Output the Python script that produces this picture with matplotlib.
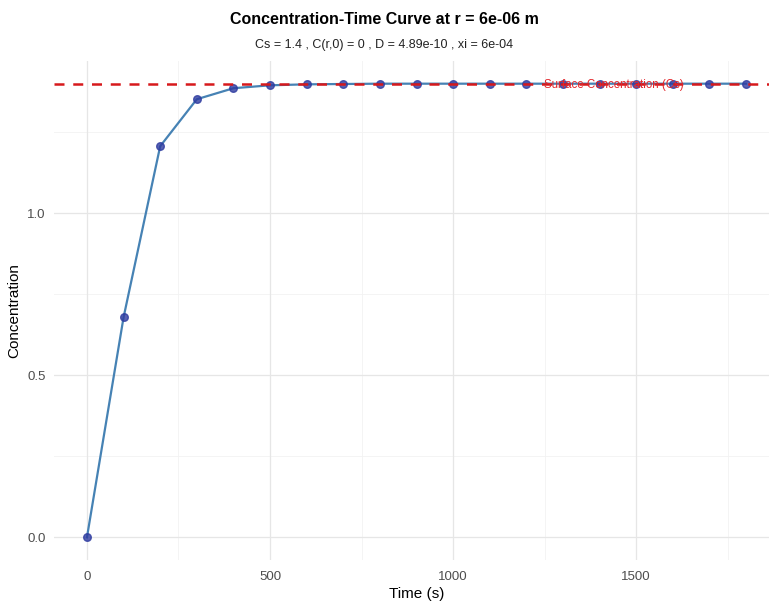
import matplotlib
matplotlib.use("Agg")
import matplotlib.pyplot as plt

plt.rcParams['font.family'] = ['Liberation Sans', 'DejaVu Sans']

# data
time_s = [0, 100, 200, 300, 400, 500, 600, 700, 800, 900, 1000,
          1100, 1200, 1300, 1400, 1500, 1600, 1700, 1800]
conc = [0.0, 0.679, 1.207, 1.352, 1.386, 1.395, 1.398, 1.399, 1.4, 1.4, 1.4,
        1.4, 1.4, 1.4, 1.4, 1.4, 1.4, 1.4, 1.4]
Cs = 1.4
x_ticks = [0, 500, 1000, 1500]
y_ticks = [0.0, 0.5, 1.0]

fig = plt.figure(figsize=(7.69, 6.05), dpi=100)
ax = fig.add_axes([54/769, 45/605, 725/769, 499/605])

# grid like theme_minimal
for v in [250, 750, 1250, 1750]:
    ax.axvline(v, color='#F2F2F2', lw=0.6, zorder=0)
for v in [0.25, 0.75, 1.25]:
    ax.axhline(v, color='#F2F2F2', lw=0.6, zorder=0)
for v in x_ticks:
    ax.axvline(v, color='#E6E6E6', lw=0.9, zorder=0)
for v in y_ticks:
    ax.axhline(v, color='#E6E6E6', lw=0.9, zorder=0)

ax.plot(time_s, conc, color='#4682B4', lw=1.6, zorder=2)
ax.scatter(time_s, conc, s=30, color='#2E3BA0', alpha=0.8, zorder=3)
ax.axhline(Cs, color='#D7191C', lw=1.8, ls=(0, (4, 3.5)), zorder=4)
ax.text(1440, Cs - 0.003, "Surface Concentration (Cs)", color='#E3262B',
        fontsize=8.3, ha='center', va='center', zorder=5)

ax.set_xlim(-90, 1890)
ax.set_ylim(-0.07, 1.47)
ax.set_xticks(x_ticks)
ax.set_yticks(y_ticks)
ax.set_yticklabels(["0.0", "0.5", "1.0"])
ax.tick_params(length=0, colors='#4D4D4D', labelsize=9.5)
ax.tick_params(axis='x', pad=8)
ax.tick_params(axis='y', pad=6)
for s in ax.spines.values():
    s.set_visible(False)

ax.set_xlabel("Time (s)", fontsize=11, labelpad=3)
ax.set_ylabel("Concentration", fontsize=11, labelpad=4)

fig.text(0.5, 1 - 19/605, "Concentration-Time Curve at r = 6e-06 m",
         ha='center', va='center', fontsize=11.5, fontweight='bold')
fig.text(0.5, 1 - 45/605, "Cs = 1.4 , C(r,0) = 0 , D = 4.89e-10 , xi = 6e-04",
         ha='center', va='center', fontsize=9, color='#222222')

fig.savefig("out.png", dpi=100)
